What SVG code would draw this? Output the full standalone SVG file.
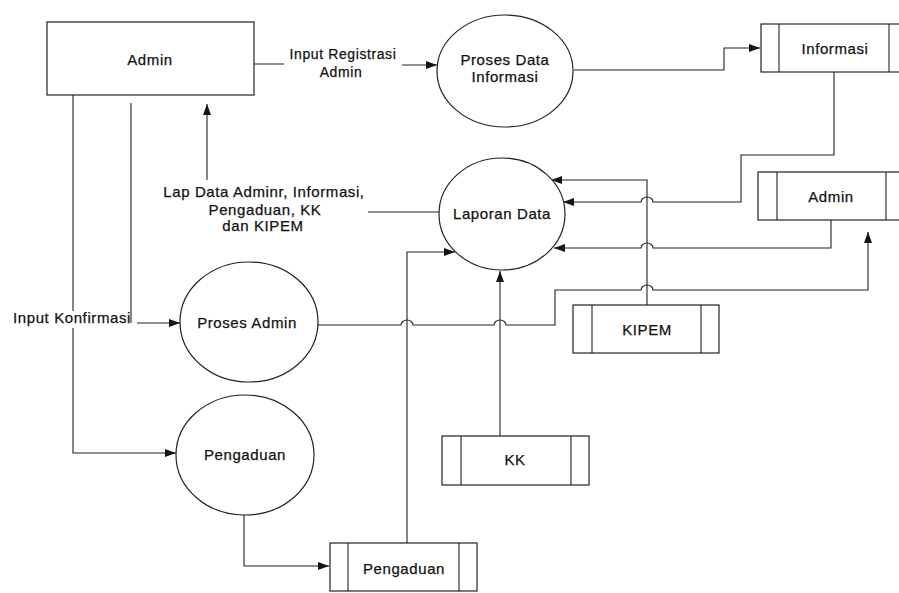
<svg xmlns="http://www.w3.org/2000/svg" width="899" height="593" viewBox="0 0 899 593">
<defs>
<marker id="arr" markerUnits="userSpaceOnUse" markerWidth="12" markerHeight="10" refX="11" refY="4" orient="auto">
<path d="M0,0 L11,4 L0,8 Z" fill="#151515"/>
</marker>
<style>
.shape{fill:#fff;stroke:#222;stroke-width:1.2}
.ln{fill:none;stroke:#222;stroke-width:1.1}
.lnA{fill:none;stroke:#222;stroke-width:1.1;marker-end:url(#arr)}
text{font-family:"Liberation Sans",Arial,sans-serif;font-size:15px;letter-spacing:0.6px;fill:#111;stroke:#111;stroke-width:0.25}
.c{text-anchor:middle}
.bg{fill:#fff;stroke:none}
</style>
</defs>
<rect width="899" height="593" fill="#fff"/>

<g id="connectors">
<path class="lnA" d="M254,64 H284 M402,65 H437"/>
<path class="lnA" d="M73,95 V453 H176"/>
<path class="lnA" d="M131,103 V323 M137,323 H180"/>
<path class="lnA" d="M207,180 V104"/>
<path class="ln" d="M368,212 H439"/>
<path class="lnA" d="M574,70 H724 V48 H760"/>
<path class="lnA" d="M834,72 V155 H741 V202 H653 a6,5 0 0 0 -12,0 H563"/>
<path class="lnA" d="M831,220 V248 H653 a6,5 0 0 0 -12,0 H554"/>
<path class="lnA" d="M318,325 H401 a6,5 0 0 1 12,0 H494 a6,5 0 0 1 12,0 H555 V290 H641 a6,5 0 0 1 12,0 H868 V232"/>
<path class="lnA" d="M647,305 V180 H551"/>
<path class="lnA" d="M407,543 V252 H455"/>
<path class="lnA" d="M500,436 V271"/>
<path class="lnA" d="M244,515 V566 H329"/>
</g>

<g id="label-input-registrasi">
<text class="c" x="343" y="59" style="font-size:14px">Input Registrasi</text>
<text class="c" x="341" y="77" style="font-size:14px">Admin</text>
</g>
<g id="label-lap-data">
<text class="c" x="264" y="197">Lap Data Adminr, Informasi,</text>
<text class="c" x="265" y="215">Pengaduan, KK</text>
<text class="c" x="263" y="231">dan KIPEM</text>
</g>
<g id="label-input-konfirmasi">
<rect class="bg" x="11" y="311" width="119" height="17"/>
<text x="13" y="323">Input Konfirmasi</text>
</g>

<g id="admin-entity">
<rect class="shape" x="47" y="22" width="207" height="73"/>
<text class="c" x="150" y="65">Admin</text>
</g>

<g id="proses-data-informasi">
<ellipse class="shape" cx="505" cy="71" rx="68" ry="56"/>
<text class="c" x="505" y="65">Proses Data</text>
<text class="c" x="505" y="82">Informasi</text>
</g>

<g id="laporan-data">
<ellipse class="shape" cx="502" cy="214" rx="63" ry="56"/>
<text class="c" x="502" y="219">Laporan Data</text>
</g>

<g id="proses-admin">
<ellipse class="shape" cx="249" cy="322" rx="69" ry="60"/>
<text class="c" x="247" y="328">Proses Admin</text>
</g>

<g id="pengaduan-process">
<ellipse class="shape" cx="245" cy="455" rx="69" ry="60"/>
<text class="c" x="245" y="460">Pengaduan</text>
</g>

<g id="store-informasi">
<rect class="shape" x="761" y="24" width="150" height="48"/>
<line class="ln" x1="779" y1="24" x2="779" y2="72"/>
<line class="ln" x1="889" y1="24" x2="889" y2="72"/>
<text class="c" x="835" y="54">Informasi</text>
</g>

<g id="store-admin">
<rect class="shape" x="758" y="172" width="150" height="48"/>
<line class="ln" x1="777" y1="172" x2="777" y2="220"/>
<line class="ln" x1="886" y1="172" x2="886" y2="220"/>
<text class="c" x="831" y="202">Admin</text>
</g>

<g id="store-kipem">
<rect class="shape" x="573" y="305" width="146" height="48"/>
<line class="ln" x1="592" y1="305" x2="592" y2="353"/>
<line class="ln" x1="701" y1="305" x2="701" y2="353"/>
<text class="c" x="647" y="335">KIPEM</text>
</g>

<g id="store-kk">
<rect class="shape" x="442" y="436" width="147" height="49"/>
<line class="ln" x1="461" y1="436" x2="461" y2="485"/>
<line class="ln" x1="571" y1="436" x2="571" y2="485"/>
<text class="c" x="515" y="465">KK</text>
</g>

<g id="store-pengaduan">
<rect class="shape" x="330" y="543" width="147" height="48"/>
<line class="ln" x1="348" y1="543" x2="348" y2="591"/>
<line class="ln" x1="459" y1="543" x2="459" y2="591"/>
<text class="c" x="404" y="574">Pengaduan</text>
</g>
</svg>
